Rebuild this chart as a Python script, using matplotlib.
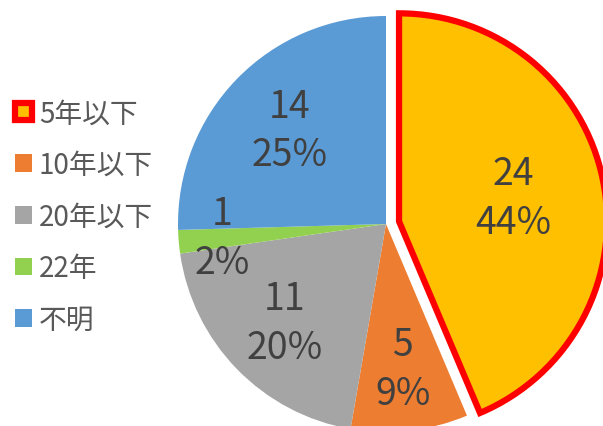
import numpy as np
import matplotlib
matplotlib.use("Agg")
import matplotlib.pyplot as plt

plt.rcParams['font.family'] = ['Noto Sans CJK JP', 'DejaVu Sans']

labels = ["5年以下", "10年以下", "20年以下", "22年", "不明"]
counts = [24, 5, 11, 1, 14]
pcts = ["44%", "9%", "20%", "2%", "25%"]
colors = ["#FFC000", "#ED7D31", "#A5A5A5", "#92D050", "#5B9BD5"]

# where the two-line label sits along each wedge's middle angle (fraction of radius)
label_dist = [0.56, 0.70, 0.68, 0.79, 0.645]

fig = plt.figure(figsize=(6.03, 4.27), dpi=100)
ax = fig.add_axes([0, 0, 1, 1])

wedges, _ = ax.pie(counts, colors=colors, startangle=90, counterclock=False,
                   explode=[0.064, 0, 0, 0, 0],
                   wedgeprops=dict(linewidth=0, edgecolor="white"))
wedges[0].set_edgecolor("#FF0000")
wedges[0].set_linewidth(4.5)
wedges[0].set_joinstyle("miter")

for w, c, p, d in zip(wedges, counts, pcts, label_dist):
    ang = np.deg2rad((w.theta1 + w.theta2) / 2)
    cx, cy = w.center
    ax.text(cx + d * np.cos(ang), cy + d * np.sin(ang), f"{c}\n{p}",
            ha="center", va="center", fontsize=27, color="#404040",
            linespacing=1.33)

ax.set_xlim(-386 / 208, 217 / 208)
ax.set_ylim(-202 / 208, 225 / 208)
ax.set_aspect("equal")
ax.axis("off")

leg = ax.legend(wedges, labels, loc="center left", bbox_to_anchor=(-0.016, 0.49),
                frameon=False, fontsize=20, handlelength=0.6, handleheight=0.6,
                handletextpad=0.25, labelspacing=0.78, labelcolor="#595959")

fig.savefig("out.png", dpi=100)
